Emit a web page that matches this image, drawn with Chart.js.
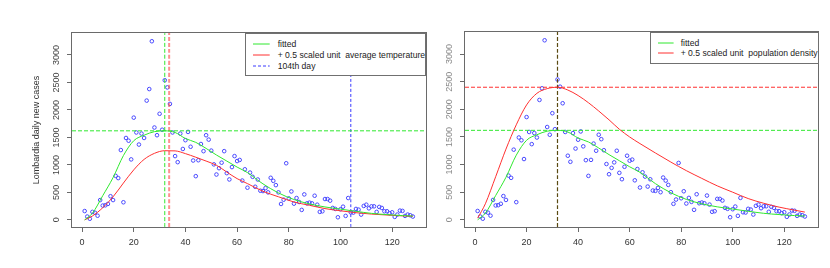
<!DOCTYPE html>
<html><head><meta charset="utf-8">
<script src="https://cdn.jsdelivr.net/npm/chart.js@4.4.1/dist/chart.umd.min.js"></script>
<style>
html,body{margin:0;padding:0;background:#fff;}
#wrap{position:relative;width:830px;height:268px;overflow:hidden;background:#fff;}
#c1{position:absolute;left:0;top:0;}
#c2{position:absolute;left:440px;top:0;}
.legend{position:absolute;background:#fff;border:1px solid #707070;font-family:"Liberation Sans",Arial,sans-serif;font-size:8.6px;color:#222;box-sizing:border-box;}
.legend .row{position:absolute;white-space:pre;line-height:10px;height:10px;}
.legend svg{position:absolute;overflow:visible;}
</style></head><body>
<div id="wrap">
<canvas id="c1" width="440" height="268"></canvas>
<canvas id="c2" width="390" height="268"></canvas>
<div id="leg1" class="legend" style="left:245px;top:33px;width:181px;height:43px;"></div>
<div id="leg2" class="legend" style="left:650px;top:32px;width:169px;height:32px;"></div>
</div>
<script>
// ---- data ----
const days = Array.from({length:128},(_,i)=>i+1);
const newCases = [
 160,60,20,145,130,75,360,260,265,290,430,360,800,760,1270,320,1490,1440,1100,1860,
 1590,1370,1570,1490,2170,2380,3250,1680,1540,1930,1640,2540,2410,2110,1590,1160,1050,1570,1290,1450,
 1600,1330,1080,795,1085,1380,1250,1540,1460,1260,1010,825,940,1040,1250,850,735,960,1160,1070,
 1090,715,920,585,860,783,602,734,530,524,578,500,765,710,632,500,289,367,1030,390,
 517,295,397,325,181,463,300,313,300,439,276,145,156,379,379,349,217,199,47,192,
 240,72,397,137,132,199,186,96,253,276,210,246,246,145,235,217,156,156,120,137,
 54,96,168,163,72,96,84,60];
const curveDays   = [1,4,8,12,16,20,24,28,32,36,40,44,48,52,56,60,64,70,76,82,88,94,100,106,112,118,124,128];
const fitted      = [0,120,440,770,1170,1440,1540,1605,1620,1590,1480,1410,1300,1180,1070,960,860,655,490,370,290,235,195,155,118,95,77,68];
const tempShift   = [0,70,220,420,670,910,1100,1210,1258,1255,1205,1140,1070,993,870,750,660,520,420,325,265,205,165,130,105,88,72,66];
const densShift   = [30,290,780,1280,1720,2080,2290,2375,2400,2350,2250,2120,1970,1810,1640,1500,1380,1210,1045,890,750,615,500,385,300,230,175,140];
const fittedPeakDay = 32, fittedPeak = 1620;
const tempPeakDay = 33.7;
const markDay = 104;
const densPeakDay = 32, densPeak = 2400;
const xTicks = [0,20,40,60,80,100,120];
const yTicks = [0,500,1000,1500,2000,2500,3000];
const xRange = [-3.9,133.1];
const yRange = [-130,3400];
const yTitle = 'Lombardia daily new cases';
const leftLegend  = ['fitted','+ 0.5 scaled unit  average temperature','104th day'];
const rightLegend = ['fitted','+ 0.5 scaled unit  population density'];

// ---- styles ----
const FONT = '"Liberation Sans", Arial, sans-serif';
const GREEN = '#2fe82f', RED = '#ff3030', BLUE = '#3a3aff';

const pts = days.map((d,i)=>({x:d,y:newCases[i]}));
const curve = arr => curveDays.map((d,i)=>({x:d,y:arr[i]}));
const vline = x => [{x:x,y:yRange[0]},{x:x,y:yRange[1]}];
const hline = y => [{x:xRange[0],y:y},{x:xRange[1],y:y}];

function lineDs(data,color,w,dash){
  return {type:'line',data,borderColor:color,borderWidth:w,borderDash:dash||[],pointRadius:0,
    fill:false,cubicInterpolationMode:'monotone',clip:0};
}
function pointDs(){
  return {type:'scatter',data:pts,pointStyle:'circle',pointRadius:1.8,borderColor:'#4848ff',
    borderWidth:1,backgroundColor:'rgba(0,0,0,0)',pointHoverRadius:1.8};
}

const boxPlugin = {id:'box',afterDatasetsDraw(chart){
  const a=chart.chartArea, c=chart.ctx;
  c.save(); c.strokeStyle='#6a6a6a'; c.lineWidth=1;
  c.strokeRect(Math.round(a.left)-0.5,Math.round(a.top)-0.5,Math.round(a.right-a.left)+1,Math.round(a.bottom-a.top)+1);
  c.restore();
}};

function makeChart(id, datasets, o){
  return new Chart(document.getElementById(id),{
    type:'scatter',
    data:{datasets},
    options:{
      responsive:false, animation:false, events:[],
      layout:{padding:{top:o.top,right:o.right,left:0,bottom:0}},
      plugins:{legend:{display:false},tooltip:{enabled:false}},
      scales:{
        x:{type:'linear',min:xRange[0],max:xRange[1],
          afterFit(s){s.height=41;},
          afterBuildTicks(s){s.ticks=xTicks.map(v=>({value:v}));},
          grid:{drawOnChartArea:false,drawTicks:true,tickLength:5,color:'#6a6a6a'},
          border:{display:false},
          ticks:{padding:5,color:'#333',font:{family:FONT,size:9},autoSkip:false,maxRotation:0,callback:v=>String(v)}},
        y:{type:'linear',min:yRange[0],max:yRange[1],
          afterFit(s){s.width=o.yWidth;},
          afterBuildTicks(s){s.ticks=yTicks.map(v=>({value:v}));},
          grid:{drawOnChartArea:false,drawTicks:true,tickLength:5,color:'#6a6a6a'},
          border:{display:false},
          ticks:{padding:0,color:o.yTickColor,font:{family:FONT,size:9},autoSkip:false,
            minRotation:90,maxRotation:90,crossAlign:'center',callback:v=>String(v)},
          title:{display:!!o.title,text:o.title||'',color:'#333',font:{family:FONT,size:9},padding:{top:31,bottom:0}}}
      }
    },
    plugins:[boxPlugin]
  });
}

makeChart('c1',[
  lineDs(curve(fitted),GREEN,1),
  lineDs(curve(tempShift),RED,1),
  lineDs(vline(fittedPeakDay),GREEN,1,[4,2]),
  lineDs(vline(tempPeakDay),'rgba(255,70,70,0.6)',2,[4,2]),
  lineDs(hline(fittedPeak),GREEN,1,[4,2]),
  lineDs(vline(markDay),BLUE,1,[3,2]),
  pointDs()
],{top:33,right:14,yWidth:72,title:yTitle,yTickColor:'#444'});

makeChart('c2',[
  lineDs(curve(fitted),GREEN,1),
  lineDs(curve(densShift),RED,1),
  lineDs(vline(densPeakDay),'#5a4a12',1.2,[4,2]),
  lineDs(hline(densPeak),RED,1,[4,2]),
  lineDs(hline(fittedPeak),GREEN,1,[4,2]),
  pointDs()
],{top:32,right:12,yWidth:25,title:'',yTickColor:'#8a8a8a'});

// ---- HTML legends ----
const SVGNS='http://www.w3.org/2000/svg';
function buildLegend(el, labels, styles, o){
  labels.forEach((t,i)=>{
    const cy = o.y0 + i*o.dy;
    const svg = document.createElementNS(SVGNS,'svg');
    svg.setAttribute('width',o.sw); svg.setAttribute('height',2);
    svg.style.left=o.sx+'px'; svg.style.top=(cy-1)+'px';
    const ln = document.createElementNS(SVGNS,'line');
    ln.setAttribute('x1',0); ln.setAttribute('x2',o.sw);
    ln.setAttribute('y1',1); ln.setAttribute('y2',1);
    ln.setAttribute('stroke',styles[i].color); ln.setAttribute('stroke-width',1);
    if(styles[i].dash) ln.setAttribute('stroke-dasharray',styles[i].dash);
    svg.appendChild(ln); el.appendChild(svg);
    const r = document.createElement('div');
    r.className='row'; r.textContent=t;
    r.style.left=o.tx+'px'; r.style.top=(cy-5)+'px';
    el.appendChild(r);
  });
}
buildLegend(document.getElementById('leg1'),leftLegend,
  [{color:GREEN},{color:RED},{color:BLUE,dash:'3 2'}],
  {y0:10.3,dy:10.7,sx:7.3,sw:16.7,tx:31.7});
buildLegend(document.getElementById('leg2'),rightLegend,
  [{color:GREEN},{color:RED}],
  {y0:10.3,dy:10,sx:6.7,sw:15.6,tx:29.7});
</script>
</body></html>
